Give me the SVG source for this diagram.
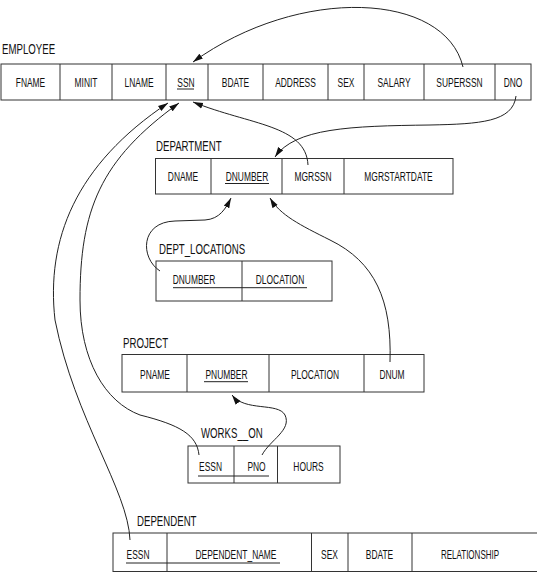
<svg xmlns="http://www.w3.org/2000/svg" width="537" height="574" viewBox="0 0 537 574">
<style>
.t{fill:#fff;stroke:#333;stroke-width:1}
.d{stroke:#333;stroke-width:1}
.u{stroke:#222;stroke-width:1}
.c{font-family:"Liberation Sans",Arial,sans-serif;font-size:13.6px;fill:#111;text-anchor:middle}
.l{font-family:"Liberation Sans",Arial,sans-serif;font-size:14px;fill:#111}
.k{fill:none;stroke:#222;stroke-width:1;marker-end:url(#ah)}
</style>
<defs>
<marker id="ah" markerWidth="11" markerHeight="7" refX="10" refY="3.5" orient="auto" markerUnits="userSpaceOnUse">
<path d="M0,0.5 L10,3.5 L0,6.5 z" fill="#111"/>
</marker>
</defs>
<rect width="537" height="574" fill="#fff"/>

<g id="employee">
<text class="l" transform="translate(2,53.5) scale(0.69,1)">EMPLOYEE</text>
<rect class="t" x="1" y="64" width="530" height="36"/>
<line class="d" x1="60" y1="64" x2="60" y2="100"/>
<line class="d" x1="112" y1="64" x2="112" y2="100"/>
<line class="d" x1="166" y1="64" x2="166" y2="100"/>
<line class="d" x1="208" y1="64" x2="208" y2="100"/>
<line class="d" x1="263" y1="64" x2="263" y2="100"/>
<line class="d" x1="328" y1="64" x2="328" y2="100"/>
<line class="d" x1="364" y1="64" x2="364" y2="100"/>
<line class="d" x1="424" y1="64" x2="424" y2="100"/>
<line class="d" x1="495" y1="64" x2="495" y2="100"/>
<text class="c" transform="translate(30.5,86.8) scale(0.62,1)">FNAME</text>
<text class="c" transform="translate(86,86.8) scale(0.62,1)">MINIT</text>
<text class="c" transform="translate(139,86.8) scale(0.62,1)">LNAME</text>
<text class="c" transform="translate(186,86.8) scale(0.62,1)">SSN</text>
<text class="c" transform="translate(235.5,86.8) scale(0.62,1)">BDATE</text>
<text class="c" transform="translate(295.5,86.8) scale(0.62,1)">ADDRESS</text>
<text class="c" transform="translate(346,86.8) scale(0.62,1)">SEX</text>
<text class="c" transform="translate(394,86.8) scale(0.62,1)">SALARY</text>
<text class="c" transform="translate(459.5,86.8) scale(0.62,1)">SUPERSSN</text>
<text class="c" transform="translate(513,86.8) scale(0.62,1)">DNO</text>
<line class="u" x1="177" y1="89" x2="194" y2="89"/>
</g>

<g id="department">
<text class="l" transform="translate(156,151) scale(0.69,1)">DEPARTMENT</text>
<rect class="t" x="155.5" y="158.5" width="297.5" height="35.5"/>
<line class="d" x1="211" y1="158.5" x2="211" y2="194"/>
<line class="d" x1="282" y1="158.5" x2="282" y2="194"/>
<line class="d" x1="344" y1="158.5" x2="344" y2="194"/>
<text class="c" transform="translate(183,181) scale(0.62,1)">DNAME</text>
<text class="c" transform="translate(247,181) scale(0.62,1)">DNUMBER</text>
<text class="c" transform="translate(313,181) scale(0.62,1)">MGRSSN</text>
<text class="c" transform="translate(398.5,181) scale(0.62,1)">MGRSTARTDATE</text>
<line class="u" x1="225" y1="183.5" x2="269" y2="183.5"/>
</g>

<g id="dept_locations">
<text class="l" transform="translate(159,254) scale(0.69,1)">DEPT_LOCATIONS</text>
<rect class="t" x="156" y="261" width="176" height="40"/>
<line class="d" x1="242" y1="261" x2="242" y2="301"/>
<text class="c" transform="translate(194,284) scale(0.62,1)">DNUMBER</text>
<text class="c" transform="translate(280,284) scale(0.62,1)">DLOCATION</text>
<line class="u" x1="173" y1="287.7" x2="307" y2="287.7"/>
</g>

<g id="project">
<text class="l" transform="translate(123,348) scale(0.69,1)">PROJECT</text>
<rect class="t" x="122" y="354.5" width="302" height="37.5"/>
<line class="d" x1="187" y1="354.5" x2="187" y2="392"/>
<line class="d" x1="269" y1="354.5" x2="269" y2="392"/>
<line class="d" x1="364" y1="354.5" x2="364" y2="392"/>
<text class="c" transform="translate(155,378.5) scale(0.62,1)">PNAME</text>
<text class="c" transform="translate(226.5,378.5) scale(0.62,1)">PNUMBER</text>
<text class="c" transform="translate(315,378.5) scale(0.62,1)">PLOCATION</text>
<text class="c" transform="translate(392,378.5) scale(0.62,1)">DNUM</text>
<line class="u" x1="204" y1="381.7" x2="248" y2="381.7"/>
</g>

<g id="works_on">
<text class="l" transform="translate(201,438) scale(0.69,1)">WORKS__ON</text>
<rect class="t" x="188" y="446" width="152" height="37"/>
<line class="d" x1="234" y1="446" x2="234" y2="483"/>
<line class="d" x1="277.5" y1="446" x2="277.5" y2="483"/>
<text class="c" transform="translate(210.5,470.8) scale(0.62,1)">ESSN</text>
<text class="c" transform="translate(256.5,470.8) scale(0.62,1)">PNO</text>
<text class="c" transform="translate(308.5,470.8) scale(0.62,1)">HOURS</text>
<line class="u" x1="198" y1="476" x2="269" y2="476"/>
</g>

<g id="dependent">
<text class="l" transform="translate(137,525.5) scale(0.69,1)">DEPENDENT</text>
<rect class="t" x="113" y="533" width="430" height="38.5"/>
<line class="d" x1="167" y1="533" x2="167" y2="571.5"/>
<line class="d" x1="311.5" y1="533" x2="311.5" y2="571.5"/>
<line class="d" x1="348" y1="533" x2="348" y2="571.5"/>
<line class="d" x1="412" y1="533" x2="412" y2="571.5"/>
<text class="c" transform="translate(138,558.5) scale(0.62,1)">ESSN</text>
<text class="c" transform="translate(236,558.5) scale(0.62,1)">DEPENDENT_NAME</text>
<text class="c" transform="translate(329.5,558.5) scale(0.62,1)">SEX</text>
<text class="c" transform="translate(379.5,558.5) scale(0.62,1)">BDATE</text>
<text class="c" transform="translate(470,558.5) scale(0.59,1)">RELATIONSHIP</text>
<line class="u" x1="126" y1="563" x2="280" y2="563"/>
</g>

<g id="connectors">
<path class="k" d="M463,67 C445,-8 300,-15 193,62"/>
<path class="k" d="M516,96 C513,122 480,124 430,125 C350,126 295,128 275,157"/>
<path class="k" d="M308,165 C306,125 250,125 193,102"/>
<path class="k" d="M130,540 C128,490 75,420 55,320 C46,240 75,165 168,103"/>
<path class="k" d="M199,455 C197,435 180,425 140,415 C105,402 80,360 80,300 C80,210 100,160 179,103"/>
<path class="k" d="M262,455 C270,440 292,430 285,415 C278,402 245,412 232,395"/>
<path class="k" d="M390,362 C392,300 375,262 330,240 C300,225 280,215 270,198"/>
<path class="k" d="M160,271 C140,258 140,222 175,221 L205,220 C220,219 226,208 231,198"/>
</g>
</svg>
